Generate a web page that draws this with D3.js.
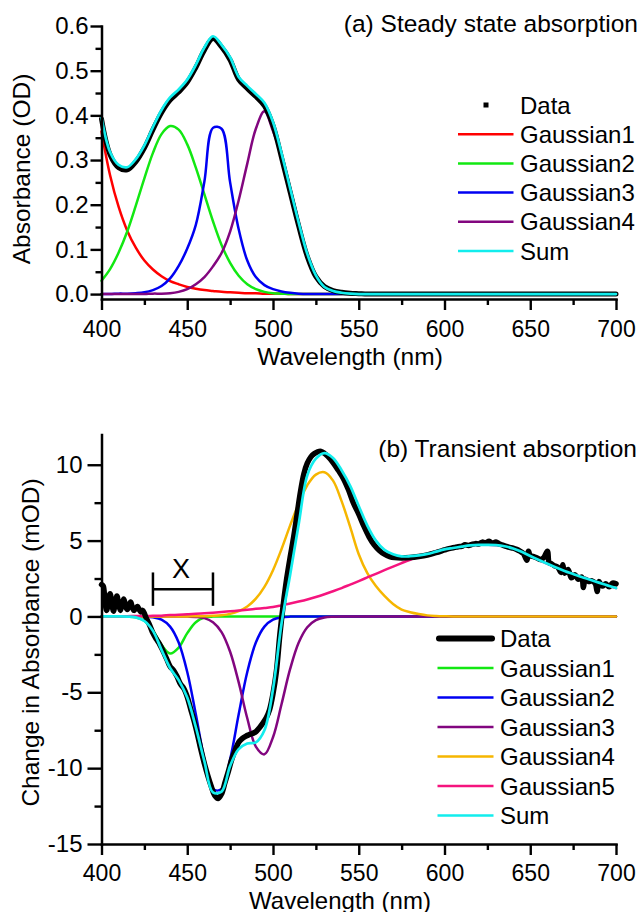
<!DOCTYPE html>
<html>
<head>
<meta charset="utf-8">
<script src="https://cdn.jsdelivr.net/npm/d3@7"></script>
<style>
  html, body { margin: 0; padding: 0; background: #ffffff; }
  svg { display: block; }
</style>
</head>
<body>
<svg id="chart" width="644" height="912"></svg>
<script>
// ---------- (a) steady state absorption ----------
const wavelengthA = [400,405,410,415,420,425,430,435,440,445,450,455,460,465,470,475,480,485,490,495,
                     500,505,510,515,520,525,530,535,540,545,550,555,560,580,600,620,640,660,680,700];
const dataA = [0.392,0.312,0.283,0.278,0.296,0.327,0.368,0.406,0.434,0.452,0.474,0.507,0.546,0.572,0.553,0.524,0.480,0.460,0.442,0.421,
               0.377,0.305,0.228,0.152,0.084,0.039,0.017,0.008,0.004,0.002,0.001,0,0,0,0,0,0,0,0,0];
const gaussA1 = [0.364,0.266,0.195,0.142,0.104,0.075,0.055,0.040,0.029,0.022,0.016,0.012,0.009,0.007,0.005,0.004,0.003,0.002,0.002,0.001,
                 0.001,0.001,0,0,0,0,0,0,0,0,0,0,0,0,0,0,0,0,0,0];
const gaussA2 = [0.030,0.056,0.093,0.140,0.198,0.259,0.316,0.358,0.376,0.368,0.335,0.283,0.223,0.163,0.110,0.070,0.041,0.022,0.011,0.005,
                 0.002,0.001,0,0,0,0,0,0,0,0,0,0,0,0,0,0,0,0,0,0];
const gaussA3 = [0,0,0.001,0.001,0.002,0.004,0.009,0.018,0.035,0.063,0.102,0.155,0.252,0.372,0.370,0.250,0.145,0.075,0.038,0.020,
                 0.011,0.006,0.003,0.001,0,0,0,0,0,0,0,0,0,0,0,0,0,0,0,0];
const gaussA4 = [0,0,0,0,0,0,0.001,0.001,0.002,0.005,0.011,0.022,0.038,0.062,0.092,0.140,0.210,0.292,0.370,0.409,
                 0.365,0.310,0.237,0.160,0.087,0.038,0.014,0.006,0.002,0.001,0,0,0,0,0,0,0,0,0,0];
const sumA = [0.396,0.318,0.289,0.284,0.302,0.333,0.374,0.412,0.440,0.458,0.480,0.513,0.552,0.577,0.558,0.530,0.486,0.466,0.448,0.428,
              0.385,0.315,0.237,0.160,0.090,0.042,0.016,0.007,0.003,0.001,0,0,0,0,0,0,0,0,0,0];

// ---------- (b) transient absorption ----------
const wavelengthB = d3.range(400, 701, 5);
const gaussB1 = [0,0,0,-0.01,-0.06,-0.29,-0.92,-1.87,-2.44,-2.05,-1.10,-0.38,-0.08,-0.01,0,0,0,0,0,0,
                 0,0,0,0,0,0,0,0,0,0,0,0,0,0,0,0,0,0,0,0,0,0,0,0,0,0,0,0,0,0,0,0,0,0,0,0,0,0,0,0,0];
const gaussB2 = [0,0,0,0,0,-0.01,-0.06,-0.21,-0.67,-1.72,-3.66,-6.45,-9.42,-11.38,-11.38,-9.42,-6.45,-3.66,-1.72,-0.67,
                 -0.21,-0.06,-0.01,0,0,0,0,0,0,0,0,0,0,0,0,0,0,0,0,0,0,0,0,0,0,0,0,0,0,0,0,0,0,0,0,0,0,0,0,0,0];
const gaussB3 = [0,0,0,0,0,0,0,0,0,0,-0.01,-0.03,-0.11,-0.38,-1.03,-2.33,-4.35,-6.71,-8.58,-9.09,
                 -7.96,-5.77,-3.46,-1.72,-0.71,-0.24,-0.07,-0.02,0,0,0,0,0,0,0,0,0,0,0,0,0,0,0,0,0,0,0,0,0,0,0,0,0,0,0,0,0,0,0,0,0];
const gaussB4 = [0,0,0,0,0,0,0,0,0,0,0,0.01,0.02,0.04,0.08,0.17,0.35,0.66,1.17,1.95,
                 3.05,4.45,6.00,7.45,8.65,9.35,9.50,8.95,7.60,5.90,4.10,2.85,2.00,1.35,0.82,0.45,0.28,0.16,0.07,0.03,
                 0.01,0,0,0,0,0,0,0,0,0,0,0,0,0,0,0,0,0,0,0,0];
const gaussB5 = [0.01,0.01,0.02,0.02,0.03,0.03,0.04,0.05,0.09,0.11,0.14,0.17,0.21,0.25,0.29,0.34,0.39,0.44,0.50,0.56,
                 0.62,0.73,0.85,0.98,1.12,1.28,1.46,1.66,1.87,2.10,2.33,2.57,2.81,3.05,3.29,3.52,3.74,3.94,4.13,4.30,
                 4.42,4.52,4.60,4.68,4.72,4.72,4.70,4.63,4.48,4.26,3.98,3.72,3.47,3.23,3.00,2.80,2.60,2.42,2.23,2.05,1.87];
const sumB = [0,0,0,-0.01,-0.06,-0.30,-0.95,-2.20,-3.40,-4.20,-5.35,-7.30,-9.55,-11.60,-11.55,-9.85,-8.75,-8.38,-8.30,-7.50,
              -4.80,-0.45,2.75,6.10,9.30,10.40,10.77,10.45,9.64,8.61,7.28,5.99,5.00,4.39,4.10,3.96,3.97,4.03,4.12,4.27,
              4.42,4.51,4.60,4.68,4.72,4.72,4.70,4.63,4.48,4.26,3.98,3.72,3.47,3.23,3.00,2.80,2.60,2.42,2.23,2.05,1.87];

// measured trace (finer, uneven sampling)
const dataWavelengthB = [400,401,402,403,404,405,406,407,408,409,410,411,412,413,414,415,416,417,418,419,420,421,422,423,424,425,426,
  428,430,432,434,436,438,440,442,444,446,448,450,452,454,456,458,460,462,464,466,468,470,472,474,476,478,480,482,484,486,488,490,
  492,494,496,498,500,502,504,506,508,510,512,514,516,518,520,522,524,526,528,530,532,535,538,541,544,547,550,553,556,559,562,565,
  568,571,575,580,585,590,595,600,602,604,606,608,610,612,614,616,618,620,622,624,626,628,630,632,634,636,638,640,642,644,646,648,
  649,650,652,654,656,658,660,661,662,664,666,668,669,670,672,674,676,678,680,681,682,684,686,688,689,690,692,694,696,698,700];
const dataB = [2.1,2.0,1.0,0.4,1.0,1.5,0.9,0.35,0.9,1.35,0.8,0.4,0.8,1.15,0.7,0.45,0.75,0.95,0.6,0.4,0.55,0.65,0.45,0.3,0.4,0.2,-0.1,
  -0.55,-1.1,-1.5,-1.85,-2.3,-2.8,-3.3,-3.55,-3.95,-4.45,-4.75,-5.3,-6.1,-6.9,-7.8,-8.8,-9.7,-10.5,-11.2,-11.8,-12.0,-11.7,-10.95,-10.2,-9.4,-8.8,-8.3,-8.05,-7.9,-7.8,-7.72,-7.6,
  -7.35,-7.05,-6.7,-6.15,-5.1,-3.6,-1.2,0.8,2.5,3.9,5.2,6.7,8.2,9.4,10.1,10.5,10.72,10.85,10.88,10.75,10.55,10.15,9.65,9.1,8.35,7.45,6.75,5.95,5.25,4.72,4.35,4.1,
  3.95,3.88,3.85,3.88,3.95,4.05,4.2,4.38,4.45,4.5,4.55,4.6,4.62,4.72,4.68,4.75,4.8,4.78,4.9,4.85,4.95,4.82,4.9,4.78,4.7,4.62,4.55,4.5,4.42,4.3,4.15,3.7,
  4.3,4.0,3.95,3.85,3.75,3.9,4.3,3.55,3.5,3.35,3.25,2.9,3.4,2.85,3.1,2.55,2.75,2.45,2.6,1.9,2.45,2.3,2.35,2.15,1.65,2.3,2.0,2.15,1.95,2.2,2.15];

// ---------- axis ticks, legends, annotation ----------
const xMajor = [400,450,500,550,600,650,700];
const xMinor = [425,475,525,575,625,675];
const yMajorA = [0,0.1,0.2,0.3,0.4,0.5,0.6];
const yMinorA = [0.05,0.15,0.25,0.35,0.45,0.55];
const yMajorB = [-15,-10,-5,0,5,10];
const yMinorB = [-12.5,-7.5,-2.5,2.5,7.5];
const legendA = ["Data","Gaussian1","Gaussian2","Gaussian3","Gaussian4","Sum"];
const legendB = ["Data","Gaussian1","Gaussian2","Gaussian3","Gaussian4","Gaussian5","Sum"];
const bracketRange = [430, 465];   // nm
const bracketLevel = 1.8;          // mOD
const bracketHalf = 1.1;           // mOD
const bracketLabel = "X";

// ---------- styling ----------
const FONT = '"Liberation Sans", Arial, Helvetica, sans-serif';
const C = {
  red: "#ff0000", green: "#12e812", blue: "#0000f2", purple: "#82067f",
  orange: "#f6b600", pink: "#f5147e", cyan: "#12eded", black: "#000000"
};
const LW = 2.5;

// plain hyphen-minus for negative tick labels
const locale = d3.formatLocale({ decimal: ".", thousands: ",", grouping: [3], currency: ["", ""], minus: "-" });

const svg = d3.select("#chart").attr("font-family", FONT);

const xA = d3.scaleLinear().domain([400, 700]).range([101.5, 616]);
const yA = d3.scaleLinear().domain([-0.011, 0.6]).range([299, 26]);
const xB = d3.scaleLinear().domain([400, 700]).range([101.5, 616]);
const yB = d3.scaleLinear().domain([-15, 12]).range([844, 434.4]);

function styleAxis(g, size) {
  g.attr("font-family", FONT).attr("font-size", size);
  g.selectAll("line").attr("stroke", "#000").attr("stroke-width", 2.4);
  g.selectAll("path.domain").attr("stroke", "#000").attr("stroke-width", 2.5)
    .attr("stroke-linecap", "square");
  g.selectAll("text").attr("fill", "#000");
}

function drawAxes(x, y, o) {
  const base = y.range()[0];
  // x minor
  const gxm = svg.append("g").attr("transform", `translate(0,${base})`)
    .call(d3.axisBottom(x).tickValues(xMinor).tickSize(6).tickSizeOuter(0).tickFormat(""));
  gxm.select(".domain").remove();
  styleAxis(gxm, 23);
  // x major
  const gx = svg.append("g").attr("transform", `translate(0,${base})`)
    .call(d3.axisBottom(x).tickValues(xMajor).tickSize(11).tickSizeOuter(0)
      .tickPadding(o.xPad).tickFormat(locale.format("d")));
  styleAxis(gx, 23);
  // y minor
  const gym = svg.append("g").attr("transform", `translate(${x.range()[0]},0)`)
    .call(d3.axisLeft(y).tickValues(o.yMinor).tickSize(o.yMinorLen).tickSizeOuter(0).tickFormat(""));
  gym.select(".domain").remove();
  styleAxis(gym, 24);
  // y major
  const gy = svg.append("g").attr("transform", `translate(${x.range()[0]},0)`)
    .call(d3.axisLeft(y).tickValues(o.yMajor).tickSize(o.yMajorLen).tickSizeOuter(0)
      .tickPadding(o.yPad).tickFormat(o.yFormat));
  styleAxis(gy, 24);
}

function series(xs, ys) { return xs.map((l, i) => ({ l, v: ys[i] })); }

function drawLine(x, y, pts, color, width) {
  const line = d3.line().x(d => x(d.l)).y(d => y(d.v)).curve(d3.curveCatmullRom.alpha(0.5));
  svg.append("path").datum(pts)
    .attr("d", line).attr("fill", "none").attr("stroke", color)
    .attr("stroke-width", width).attr("stroke-linejoin", "round").attr("stroke-linecap", "round");
}

function addText(t, x, y, o = {}) {
  const el = svg.append("text").attr("x", x).attr("y", y).text(t)
    .attr("font-size", o.size || 24.5).attr("fill", "#000")
    .attr("text-anchor", o.anchor || "start");
  if (o.rotate) el.attr("transform", `rotate(-90,${x},${y})`);
  if (o.dy) el.attr("dy", o.dy);
  return el;
}

// ===== panel (a) =====
const colorsA = [C.red, C.green, C.blue, C.purple];
[gaussA1, gaussA2, gaussA3, gaussA4].forEach((s, i) =>
  drawLine(xA, yA, series(wavelengthA, s), colorsA[i], LW));
drawLine(xA, yA, series(wavelengthA, dataA), C.black, 5);
drawLine(xA, yA, series(wavelengthA, sumA), C.cyan, 2.7);

drawAxes(xA, yA, {
  xPad: 10.5, yMajor: yMajorA, yMinor: yMinorA, yMajorLen: 11, yMinorLen: 6,
  yPad: 2, yFormat: locale.format(".1f")
});

addText("(a) Steady state absorption", 638, 32, { anchor: "end" });
addText("Absorbance (OD)", 30, 169, { anchor: "middle", rotate: true });
addText("Wavelength (nm)", 350, 365, { anchor: "middle" });

// legend (a)
const legAColors = [C.black, C.red, C.green, C.blue, C.purple, C.cyan];
const legA = svg.append("g");
legendA.forEach((name, i) => {
  const cy = 105 + i * 29.2;
  if (i === 0) {
    legA.append("rect").attr("x", 483.5).attr("y", cy - 2.5).attr("width", 5).attr("height", 5)
      .attr("fill", C.black);
  } else {
    legA.append("line").attr("x1", 458).attr("x2", 513.5).attr("y1", cy).attr("y2", cy)
      .attr("stroke", legAColors[i]).attr("stroke-width", LW);
  }
  legA.append("text").attr("x", 520).attr("y", cy).attr("dy", "0.36em")
    .attr("font-size", 24).attr("fill", "#000").text(name);
});

// ===== panel (b) =====
const colorsB = [C.green, C.blue, C.purple, C.orange, C.pink];
[gaussB1, gaussB2, gaussB3, gaussB4, gaussB5].forEach((s, i) =>
  drawLine(xB, yB, series(wavelengthB, s), colorsB[i], LW));
drawLine(xB, yB, series(dataWavelengthB, dataB), C.black, 5.5);
drawLine(xB, yB, series(wavelengthB, sumB), C.cyan, 2.7);

drawAxes(xB, yB, {
  xPad: 10, yMajor: yMajorB, yMinor: yMinorB, yMajorLen: 14, yMinorLen: 7,
  yPad: 5, yFormat: locale.format("d")
});

addText("(b) Transient absorption", 637, 457, { anchor: "end" });
addText("Change in Absorbance (mOD)", 39, 642.5, { anchor: "middle", rotate: true });
addText("Wavelength (nm)", 340, 908.5, { anchor: "middle", size: 24 });

// bracket marking region X
const br = svg.append("g").attr("stroke", "#000").attr("stroke-width", 2.5);
br.append("line").attr("x1", xB(bracketRange[0])).attr("x2", xB(bracketRange[1]))
  .attr("y1", yB(bracketLevel)).attr("y2", yB(bracketLevel));
bracketRange.forEach(l => br.append("line").attr("x1", xB(l)).attr("x2", xB(l))
  .attr("y1", yB(bracketLevel + bracketHalf)).attr("y2", yB(bracketLevel - bracketHalf)));
addText(bracketLabel, xB((bracketRange[0] + bracketRange[1]) / 2) - 2, yB(bracketLevel) - 11,
  { anchor: "middle", size: 27 });

// legend (b)
const legBColors = [C.black, C.green, C.blue, C.purple, C.orange, C.pink, C.cyan];
const legB = svg.append("g");
legendB.forEach((name, i) => {
  const cy = 638.5 + i * 29.5;
  legB.append("line").attr("x1", i === 0 ? 439 : 437.5).attr("x2", i === 0 ? 492 : 493.5)
    .attr("y1", cy).attr("y2", cy)
    .attr("stroke", legBColors[i]).attr("stroke-width", i === 0 ? 6 : LW)
    .attr("stroke-linecap", i === 0 ? "round" : "butt");
  legB.append("text").attr("x", 500).attr("y", cy).attr("dy", "0.36em")
    .attr("font-size", 24).attr("fill", "#000").text(name);
});
</script>
</body>
</html>
